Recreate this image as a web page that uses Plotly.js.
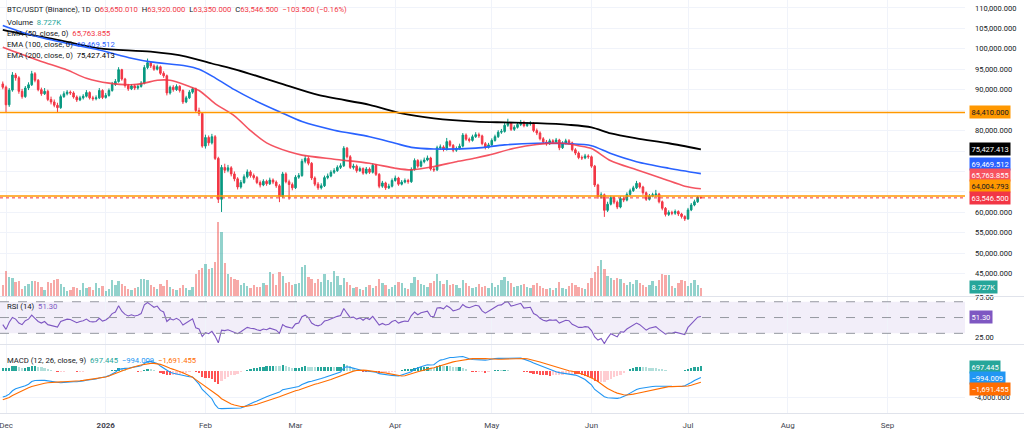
<!DOCTYPE html>
<html><head><meta charset="utf-8">
<script src="https://cdn.plot.ly/plotly-3.0.1.min.js"></script>
<style>html,body{margin:0;padding:0;background:#fff;}#chart{width:1024px;height:436px;}</style>
</head><body><div id="chart"></div>
<script>
// ---------- DATA (prices in thousands USDT, volume in thousands BTC) ----------
const startDate = [2025, 10, 30]; // 2025-11-30, first daily candle
const openK = [
91.4,90.6,86.3,89.9,93.6,92.9,89.6,88.3,90.4,91.2,
93.9,92.3,90.0,89.0,89.6,87.6,87.0,86.2,85.6,88.3,
89.0,89.4,89.2,88.2,87.5,88.0,88.4,89.3,88.0,87.8,
88.0,89.8,88.1,88.6,89.8,91.3,92.0,94.9,92.6,91.0,
90.2,90.9,90.4,90.8,91.6,95.4,96.6,95.8,95.0,95.6,
94.0,93.4,89.2,90.6,90.0,90.8,89.8,87.0,88.0,89.4,
90.2,84.9,84.2,76.2,78.3,77.0,78.5,73.2,63.2,71.0,
70.3,70.9,69.4,68.2,66.2,67.3,68.7,69.9,69.0,68.5,
67.3,66.7,67.6,67.0,67.9,67.4,66.5,63.9,69.4,67.5,
66.8,66.0,68.6,69.0,72.5,73.2,72.0,68.4,66.9,66.0,
66.5,68.5,68.9,69.8,70.2,71.0,71.4,75.7,73.6,71.0,
71.3,70.2,70.7,69.6,70.6,69.8,71.5,69.3,66.4,67.2,
66.0,66.4,67.8,68.4,66.9,67.4,67.8,67.5,70.5,72.7,
71.3,72.4,72.8,73.3,70.6,70.4,75.8,76.0,75.4,77.3,
76.4,75.2,75.6,76.2,78.9,77.9,77.6,78.5,79.0,78.7,
76.8,75.9,76.5,77.6,78.5,79.6,79.8,81.3,81.8,80.3,
80.8,81.5,82.0,81.2,81.6,81.8,80.0,79.4,78.0,77.2,
76.8,77.5,77.2,77.7,75.8,76.9,77.5,77.0,75.3,74.5,
73.4,73.3,73.8,73.6,71.3,66.7,63.8,64.3,60.5,62.0,
63.6,62.5,61.3,63.4,63.0,64.4,65.3,66.0,67.1,66.2,
64.8,63.2,64.0,64.3,64.5,62.6,61.0,59.5,60.0,59.8,
60.2,59.6,59.0,58.4,60.6,61.8,62.6,63.65001];
const highK = [
92.0,91.0,90.4,94.3,94.1,93.3,90.2,90.9,91.8,94.6,
94.3,92.6,90.5,90.4,90.0,88.3,87.6,86.8,88.8,89.6,
89.9,89.8,89.6,88.6,88.5,88.9,89.9,89.6,88.5,88.6,
90.4,90.1,89.2,90.3,91.9,92.6,95.5,95.1,92.9,91.4,
91.4,91.3,91.3,92.1,96.0,97.6,97.0,96.2,96.1,95.9,
94.5,93.7,91.0,91.1,91.3,91.1,90.1,88.5,89.9,90.6,
90.5,85.6,84.5,79.0,78.8,79.2,78.9,73.6,71.6,71.9,
71.6,71.3,70.0,68.6,67.9,69.3,70.5,70.3,69.5,68.9,
67.8,68.1,68.0,68.5,68.3,67.8,66.9,69.9,69.8,68.0,
67.3,69.1,69.6,73.1,73.9,73.6,72.3,68.8,67.4,67.1,
69.0,69.5,70.3,70.8,71.5,72.0,76.2,76.0,74.0,71.9,
71.7,71.2,71.0,71.1,71.0,72.0,71.8,69.6,67.7,67.5,
67.0,68.3,69.0,68.7,67.9,68.3,68.2,71.0,73.2,73.0,
72.9,73.4,73.9,73.6,71.1,76.3,76.6,76.4,78.2,77.7,
76.7,76.1,76.8,79.4,79.3,78.3,79.0,79.6,79.5,79.0,
77.2,77.0,78.1,79.0,80.1,80.4,81.9,82.9,82.1,81.3,
82.0,82.6,82.4,82.1,82.3,82.1,80.5,79.8,78.4,77.7,
78.0,77.9,78.2,78.0,77.4,78.0,77.9,77.3,75.7,74.9,
73.9,74.3,74.2,73.9,71.6,67.0,64.9,64.6,62.6,64.1,
64.0,62.9,63.9,63.9,64.9,65.8,66.5,67.7,67.4,66.5,
65.1,64.5,64.8,65.5,64.8,62.9,61.3,60.5,60.4,60.7,
60.5,59.9,59.3,61.1,62.3,63.1,64.0,63.92];
const lowK = [
90.1,84.3,85.8,89.5,92.2,89.0,87.8,88.0,89.9,90.9,
91.8,89.6,88.5,88.7,87.2,86.4,85.7,84.4,85.3,88.0,
88.6,88.7,87.8,87.0,87.2,87.6,88.1,87.6,87.3,87.4,
87.7,87.7,87.8,88.3,89.5,90.9,91.7,92.2,90.5,89.7,
89.9,89.9,90.0,90.5,91.3,95.0,95.3,94.6,94.7,93.6,
92.9,88.6,88.8,89.5,89.7,89.3,86.5,86.7,87.7,89.0,
84.4,83.6,75.8,75.6,76.3,76.6,72.8,62.3,60.1,69.6,
69.8,68.8,67.6,65.6,65.8,67.0,68.3,68.5,68.0,66.9,
66.1,66.4,66.5,66.7,66.9,66.0,62.5,63.6,67.1,63.1,
65.4,65.7,68.2,68.7,72.0,71.5,67.9,66.4,65.5,65.6,
66.2,68.1,68.6,69.4,69.9,70.6,71.1,73.2,70.6,70.5,
69.7,69.9,69.2,69.3,69.4,69.5,68.9,65.9,66.0,65.5,
65.7,66.1,67.5,66.5,66.6,67.1,67.0,67.2,70.2,70.9,
71.0,72.0,72.5,70.2,69.9,70.1,75.3,74.9,75.1,76.0,
74.7,74.8,75.3,75.9,77.5,77.1,77.3,78.2,78.2,76.4,
75.4,75.6,76.2,77.3,78.2,79.2,79.5,80.9,79.9,79.9,
80.5,81.1,80.8,80.9,81.2,79.6,78.9,77.6,76.8,76.3,
76.5,76.8,76.9,75.2,75.5,76.6,76.6,74.9,74.0,73.0,
72.8,73.0,73.1,70.9,66.2,63.3,63.4,58.9,60.1,61.7,
62.0,60.8,61.0,62.5,62.7,64.1,65.0,65.7,65.8,64.3,
62.8,62.9,63.7,63.8,62.2,60.5,59.0,59.1,59.3,59.4,
59.1,58.5,57.9,58.2,60.3,61.5,62.3,63.35];
const closeK = [
90.6,86.3,89.9,93.6,92.9,89.6,88.3,90.4,91.2,93.9,
92.3,90.0,89.0,89.6,87.6,87.0,86.2,85.6,88.3,89.0,
89.4,89.2,88.2,87.5,88.0,88.4,89.3,88.0,87.8,88.0,
89.8,88.1,88.6,89.8,91.3,92.0,94.9,92.6,91.0,90.2,
90.9,90.4,90.8,91.6,95.4,96.6,95.8,95.0,95.6,94.0,
93.4,89.2,90.6,90.0,90.8,89.8,87.0,88.0,89.4,90.2,
84.9,84.2,76.2,78.3,77.0,78.5,73.2,63.2,71.0,70.3,
70.9,69.4,68.2,66.2,67.3,68.7,69.9,69.0,68.5,67.3,
66.7,67.6,67.0,67.9,67.4,66.5,63.9,69.4,67.5,66.8,
66.0,68.6,69.0,72.5,73.2,72.0,68.4,66.9,66.0,66.5,
68.5,68.9,69.8,70.2,71.0,71.4,75.7,73.6,71.0,71.3,
70.2,70.7,69.6,70.6,69.8,71.5,69.3,66.4,67.2,66.0,
66.4,67.8,68.4,66.9,67.4,67.8,67.5,70.5,72.7,71.3,
72.4,72.8,73.3,70.6,70.4,75.8,76.0,75.4,77.3,76.4,
75.2,75.6,76.2,78.9,77.9,77.6,78.5,79.0,78.7,76.8,
75.9,76.5,77.6,78.5,79.6,79.8,81.3,81.8,80.3,80.8,
81.5,82.0,81.2,81.6,81.8,80.0,79.4,78.0,77.2,76.8,
77.5,77.2,77.7,75.8,76.9,77.5,77.0,75.3,74.5,73.4,
73.3,73.8,73.6,71.3,66.7,63.8,64.3,60.5,62.0,63.6,
62.5,61.3,63.4,63.0,64.4,65.3,66.0,67.1,66.2,64.8,
63.2,64.0,64.3,64.5,62.6,61.0,59.5,60.0,59.8,60.2,
59.6,59.0,58.4,60.6,61.8,62.6,63.65001,63.5465];
const volumeK = [
12,27,21,20,15,16,8,11,13,16,
16,15,10,6,15,14,17,18,13,10,
5,6,10,9,6,14,9,10,6,14,
9,11,5,8,17,12,16,13,11,8,
7,9,10,18,19,17,12,10,8,13,
11,17,10,8,7,9,12,9,7,10,
24,28,31,35,29,31,37,81,70,36,
24,21,18,17,12,14,11,9,12,10,
10,14,12,26,24,12,26,22,14,15,
12,13,14,32,34,21,18,14,19,15,
24,17,15,27,22,12,20,15,12,9,
10,8,6,10,12,9,11,19,14,12,
8,10,12,15,14,9,8,14,21,17,
13,12,10,14,16,24,16,13,17,12,
13,12,9,17,14,11,9,10,13,10,
11,9,14,10,12,17,21,16,14,10,
11,12,13,10,9,12,14,11,9,8,
9,7,9,15,9,8,11,14,12,10,
9,8,14,20,26,33,39,29,22,20,
17,20,18,14,12,15,13,17,14,12,
10,12,16,11,17,24,23,23,11,9,
14,17,16,11,14,17,12,8.727];
const rsi = [
41,35,44,50,48,43,41,46,48,53,
49,45,43,45,41,40,39,38,45,47,
48,47.5,45,43.5,45,46,48,45,44.5,45,
49,45.5,47,50,55,57,65,58,54,52,
53.5,52,53,55,66,69,66,63,64.5,59,
57,45,48.5,47,49,46.5,40.5,43.5,46.5,48.5,
37,35.5,26,31,29.5,32.5,26.5,18,34,33.5,
34.5,33,31.5,29.5,32,35,37.5,36.5,36,34.5,
33.5,35.5,34.5,36.5,35.5,34,30,41,38.5,37.5,
36.5,42,43,51,53,50,43,40.5,39.5,41,
45.5,46.5,48.5,49.5,51.5,52.5,61.5,55.5,50,50.5,
48,49.5,46.5,49.5,47.5,51.5,46,40.5,42.5,40.5,
41.5,45,46.5,43,44.5,45.5,45,52.5,57,53.5,
56,57,58,51.5,51,62,62.5,61,65,62.5,
58.5,59.5,61,66.5,63.5,62.5,64.5,65.5,64.5,58.5,
55.5,57.5,60.5,63,65.5,66,69,70,64.5,65.5,
67,68,62,62.5,63,55,53,49,46.5,45.5,
47,46.5,47,43,44.5,46.5,46,41.5,39.5,37.5,
37.5,38.5,38,33.5,25.5,21.5,23.5,17,24,29.5,
27.5,25.5,32,31.5,35.5,38,40,43,41,37.5,
34,36.5,37.5,38.5,35,31.5,29,30.5,30,31.5,
30.5,29.5,28.5,37.5,42,45.5,50.5,51.3];
const macd = [
-3950,-3800,-3500,-3000,-2700,-2550,-2450,-2250,-2000,-1600,
-1450,-1380,-1400,-1420,-1500,-1580,-1680,-1800,-1780,-1720,
-1650,-1620,-1620,-1640,-1600,-1520,-1400,-1350,-1300,-1220,
-1050,-980,-870,-700,-450,-200,250,380,400,420,
560,620,700,800,1150,1420,1450,1300,1150,750,
400,20,-200,-350,-450,-550,-750,-850,-880,-900,
-1400,-2000,-2800,-3300,-3800,-4200,-5100,-5650,-5700,-5680,
-5660,-5670,-5680,-5700,-5600,-5400,-5150,-4950,-4750,-4550,
-4300,-4100,-3900,-3700,-3500,-3350,-3200,-2850,-2750,-2700,
-2650,-2500,-2350,-2050,-1800,-1650,-1550,-1450,-1300,-1150,
-1000,-850,-700,-550,-350,-150,500,650,550,400,
250,150,50,0,-50,-80,-200,-400,-480,-580,
-650,-680,-700,-760,-600,-400,-250,-100,250,500,
650,800,950,900,950,1350,1650,1750,1950,2050,
2050,2050,2150,2200,2000,1850,1750,1700,1720,1700,
1650,1700,1850,1900,1920,1920,1950,1950,1900,1920,
1950,1950,1800,1650,1450,1200,1000,800,600,400,
200,50,-100,-250,-320,-350,-400,-500,-620,-800,
-1000,-1300,-1700,-2100,-2800,-3200,-3500,-3900,-4050,-4100,
-4130,-4150,-4050,-3900,-3650,-3350,-3050,-2800,-2650,-2550,
-2450,-2400,-2350,-2300,-2280,-2270,-2280,-2300,-2330,-2350,
-2370,-2350,-2250,-2050,-1750,-1450,-1180,-994.009];
const signal = [
-4350,-4200,-4000,-3700,-3450,-3200,-2950,-2750,-2550,-2350,
-2200,-2050,-1950,-1850,-1780,-1720,-1680,-1660,-1650,-1630,
-1620,-1600,-1560,-1520,-1480,-1420,-1360,-1300,-1240,-1180,
-1110,-1030,-900,-760,-600,-420,-200,0,180,350,
500,620,800,900,1000,1100,1160,1150,1100,1000,
850,600,400,250,100,-50,-250,-500,-700,-950,
-1300,-1650,-1950,-2300,-2700,-3050,-3450,-3750,-4200,-4500,
-4800,-5000,-5150,-5300,-5380,-5400,-5350,-5250,-5150,-5050,
-4900,-4750,-4600,-4450,-4280,-4100,-3900,-3700,-3500,-3300,
-3150,-3000,-2880,-2700,-2500,-2300,-2150,-2000,-1880,-1750,
-1600,-1450,-1300,-1100,-900,-700,-500,-300,-150,-20,
80,150,140,100,50,0,-60,-120,-200,-300,
-400,-500,-600,-700,-760,-720,-600,-450,-250,-100,
50,180,300,400,500,650,800,950,1150,1260,
1380,1480,1580,1670,1760,1820,1870,1900,1920,1900,
1880,1850,1800,1780,1770,1790,1820,1850,1880,1900,
1920,1920,1900,1850,1750,1650,1500,1350,1200,1050,
900,700,550,400,280,150,50,-50,-150,-300,
-450,-600,-800,-1000,-1300,-1600,-1900,-2300,-2650,-2950,
-3150,-3350,-3500,-3600,-3640,-3600,-3500,-3400,-3300,-3150,
-3000,-2900,-2800,-2700,-2600,-2500,-2400,-2370,-2360,-2360,
-2370,-2370,-2350,-2280,-2150,-2000,-1850,-1691.455];
// EMA lines read at sample days (index into the daily series)
const ema50Idx = [0,5,12,20,26,33,40,44,48,52,57,61,66,72,77,82,89,93,103,114,122,127,134,141,147,151,159,166,174,179,183,189,197,205,212,217];
const ema50K   = [100.4,98.9,96.9,94.8,92.8,91.6,91.2,91.6,92.3,92.3,91.1,89.8,86.6,83.6,80.0,77.0,74.8,74.0,73.0,72.0,70.8,70.4,71.2,72.4,73.3,74.0,75.7,76.6,76.9,76.3,75.6,72.6,70.4,68.3,66.4,65.764];
const ema100Idx = [0,5,10,20,30,40,46,57,61,66,72,78,86,93,103,114,122,127,134,147,156,166,176,183,189,197,207,217];
const ema100K   = [105.7,104.3,103.1,101.3,99.7,97.7,96.8,95.8,95.0,92.9,90.0,87.5,84.6,82.2,80.1,78.5,76.9,75.9,75.5,75.7,76.5,76.9,76.8,76.3,74.4,72.4,70.8,69.47];
const ema200Idx = [0,5,10,20,30,46,57,65,73,86,98,114,124,134,147,156,166,176,183,189,197,207,217];
const ema200K   = [104.6,103.8,103.2,101.7,100.1,99.3,98.1,96.4,94.8,91.6,88.7,86.3,84.2,83.0,82.2,82.0,81.8,81.4,80.8,79.3,78.1,76.9,75.427];
// horizontal levels
const levelsK = [84.41, 64.004793];
const lastPriceK = 63.5465;
// axis ticks
const monthTicks = ['2025-12-01','2026-01-01','2026-02-01','2026-03-01','2026-04-01','2026-05-01','2026-06-01','2026-07-01','2026-08-01','2026-09-01'];
const monthLabels = ['Dec','<b>2026</b>','Feb','Mar','Apr','May','Jun','Jul','Aug','Sep'];
const priceTicksK = [45,50,55,60,65,70,75,80,85,90,95,100,105,110];
const hiddenPriceTicksK = [65,70,75,85];

// ---------- BUILD ----------
const N = closeK.length;
const dates = [];
for (let i = 0; i < N; i++) {
  const d = new Date(Date.UTC(startDate[0], startDate[1], startDate[2] + i));
  dates.push(d.toISOString().slice(0, 10));
}
const K = a => a.map(v => v * 1000);
const UP = '#089981', DOWN = '#f23645';
const volColors = closeK.map((c, i) => c >= openK[i] ? 'rgba(38,166,154,0.5)' : 'rgba(239,83,80,0.5)');
const hist = macd.map((m, i) => m - signal[i]);
const histColors = hist.map((h, i) => {
  const p = i > 0 ? hist[i - 1] : h;
  if (h >= 0) return h >= p ? '#26a69a' : '#b2dfdb';
  return h < p ? '#ff5252' : '#ffcdd2';
});
const pick = (idx) => idx.map(i => dates[i]);
const fmt = (v, d) => v.toLocaleString('en-US', {minimumFractionDigits: d, maximumFractionDigits: d});

const FONT = 'Roboto, "Liberation Sans", Arial, sans-serif';
const H = 436, W = 1024;
const py = y => 1 - y / H;
const plotRight = 965 / W;
const DAY = 86400000;

const traces = [
  {type:'bar', x:dates, y:volumeK, xaxis:'x3', yaxis:'y4', marker:{color:volColors, line:{width:0}}, width:0.72*DAY, hoverinfo:'skip'},
  {type:'candlestick', x:dates, open:K(openK), high:K(highK), low:K(lowK), close:K(closeK), xaxis:'x3', yaxis:'y3',
   increasing:{line:{color:UP, width:1}, fillcolor:UP}, decreasing:{line:{color:DOWN, width:1}, fillcolor:DOWN}, whiskerwidth:0, hoverinfo:'skip'},
  {type:'scatter', mode:'lines', x:pick(ema200Idx), y:K(ema200K), xaxis:'x3', yaxis:'y3', line:{color:'#000000', width:1.8, shape:'spline', smoothing:0.8}, hoverinfo:'skip'},
  {type:'scatter', mode:'lines', x:pick(ema100Idx), y:K(ema100K), xaxis:'x3', yaxis:'y3', line:{color:'#2962ff', width:1.6, shape:'spline', smoothing:0.8}, hoverinfo:'skip'},
  {type:'scatter', mode:'lines', x:pick(ema50Idx), y:K(ema50K), xaxis:'x3', yaxis:'y3', line:{color:'#f23645', width:1.6, shape:'spline', smoothing:0.8}, opacity:0.85, hoverinfo:'skip'},
  {type:'scatter', mode:'lines', x:dates, y:rsi, xaxis:'x2', yaxis:'y2', line:{color:'#7e57c2', width:1.1}, hoverinfo:'skip'},
  {type:'bar', x:dates, y:hist, xaxis:'x', yaxis:'y', marker:{color:histColors, line:{width:0}}, width:0.72*DAY, hoverinfo:'skip'},
  {type:'scatter', mode:'lines', x:dates, y:macd, xaxis:'x', yaxis:'y', line:{color:'#2196f3', width:1.1}, hoverinfo:'skip'},
  {type:'scatter', mode:'lines', x:dates, y:signal, xaxis:'x', yaxis:'y', line:{color:'#ff6d00', width:1.1}, hoverinfo:'skip'}
];

const xRange = ['2025-11-29 03:15', '2026-09-25 02:30'];
const gridC = '#f0f3fa';
const xBase = {type:'date', range:xRange, autorange:false, rangeslider:{visible:false}, showgrid:true, gridcolor:gridC, gridwidth:1, zeroline:false, showline:false, ticks:'', tickvals:monthTicks, fixedrange:true};

const priceTickText = priceTicksK.map(v => hiddenPriceTicksK.includes(v) ? '' : fmt(v*1000, 3));

const layout = {
  width:W, height:H, margin:{l:0, r:0, t:0, b:0}, paper_bgcolor:'#ffffff', plot_bgcolor:'#ffffff',
  showlegend:false, hovermode:false, bargap:0,
  font:{family:FONT, size:8, color:'#131722'},
  xaxis: Object.assign({}, xBase, {domain:[0, plotRight], anchor:'y', ticktext:monthLabels, showticklabels:true, ticklabeloverflow:'allow', ticklabelstandoff:6, tickfont:{size:8, color:'#434651', family:FONT}}),
  xaxis2: Object.assign({}, xBase, {domain:[0, plotRight], anchor:'y2', showticklabels:false}),
  xaxis3: Object.assign({}, xBase, {domain:[0, plotRight], anchor:'y3', showticklabels:false}),
  yaxis: {domain:[py(413), py(345)], anchor:'x', side:'right', range:[-6364, 3940], tickvals:[-4000], ticktext:[fmt(-4000,3)],
          showgrid:true, gridcolor:gridC, zeroline:false, ticks:'', ticklabelstandoff:9, tickfont:{size:7.5, color:'#131722'}, fixedrange:true},
  yaxis2: {domain:[py(344), py(297)], anchor:'x2', side:'right', range:[16.5, 76], tickvals:[25, 75], ticktext:['25.00','75.00'],
          showgrid:false, zeroline:false, ticks:'', ticklabelstandoff:9, tickfont:{size:7.5, color:'#131722'}, fixedrange:true},
  yaxis3: {domain:[py(296), 1], anchor:'x3', side:'right', range:[39554, 111926], tickvals:priceTicksK.map(v=>v*1000), ticktext:priceTickText,
          showgrid:true, gridcolor:gridC, zeroline:false, ticks:'', ticklabelstandoff:9, tickfont:{size:7.5, color:'#131722'}, fixedrange:true},
  yaxis4: {overlaying:'y3', anchor:'x3', range:[0, 322.6], visible:false, fixedrange:true},
  shapes: [
    {type:'rect', xref:'paper', yref:'y2', x0:0, x1:plotRight, y0:30, y1:70, fillcolor:'rgba(126,87,194,0.1)', line:{width:0}, layer:'below'},
    {type:'line', xref:'paper', yref:'y2', x0:0, x1:plotRight, y0:70, y1:70, line:{color:'#9598a1', width:1, dash:'dash'}},
    {type:'line', xref:'paper', yref:'y2', x0:0, x1:plotRight, y0:50, y1:50, line:{color:'#9598a1', width:1, dash:'dash'}},
    {type:'line', xref:'paper', yref:'y2', x0:0, x1:plotRight, y0:30, y1:30, line:{color:'#9598a1', width:1, dash:'dash'}},
    {type:'line', xref:'paper', yref:'y3', x0:0, x1:plotRight, y0:levelsK[0]*1000, y1:levelsK[0]*1000, line:{color:'#ff9800', width:1.5}},
    {type:'line', xref:'paper', yref:'y3', x0:0, x1:plotRight, y0:levelsK[1]*1000, y1:levelsK[1]*1000, line:{color:'#ff9800', width:1.5}},
    {type:'line', xref:'paper', yref:'y3', x0:0, x1:plotRight, y0:lastPriceK*1000, y1:lastPriceK*1000, line:{color:'#f23645', width:1, dash:'dot'}},
    {type:'line', xref:'paper', yref:'paper', x0:0, x1:1, y0:py(296.5), y1:py(296.5), line:{color:'#e0e3eb', width:1}},
    {type:'line', xref:'paper', yref:'paper', x0:0, x1:1, y0:py(344.5), y1:py(344.5), line:{color:'#e0e3eb', width:1}},
    {type:'line', xref:'paper', yref:'paper', x0:0, x1:1, y0:py(413.5), y1:py(413.5), line:{color:'#e0e3eb', width:1}}
  ],
  annotations: []
};

const A = layout.annotations;
function box(text, ypx, bg, fg) {
  A.push({xref:'paper', yref:'paper', x:969/W, y:py(ypx), xanchor:'left', yanchor:'middle', text:text, showarrow:false,
          bgcolor:bg, borderpad:1.5, font:{family:FONT, size:7.5, color:fg}});
}
function label(text, xpx, ypx) {
  A.push({xref:'paper', yref:'paper', x:xpx/W, y:py(ypx), xanchor:'left', yanchor:'middle', text:text, showarrow:false,
          font:{family:FONT, size:7.7, color:'#131722'}});
}
const sp = '\u00a0';
const c = (col, t) => '<span style="color:' + col + '">' + t + '</span>';
const R = '#f23645';
label('BTC/USDT (Binance), 1D' + sp + sp + 'O' + c(R,'63,650.010') + sp + sp + 'H' + c(R,'63,920.000') + sp + sp + 'L' + c(R,'63,350.000') + sp + sp + 'C' + c(R,'63,546.500') + sp + sp + c(R,'−103.500 (−0.16%)'), 5, 10);
label('Volume' + sp + sp + c('#26a69a','8.727K'), 5, 22);
label('EMA (50, close, 0)' + sp + sp + c('#f23645','65,763.855'), 5, 33.5);
label('EMA (100, close, 0)' + sp + sp + c('#2962ff','69,469.512'), 5, 44.5);
label('EMA (200, close, 0)' + sp + sp + c('#000000','75,427.413'), 5, 55.5);
label('RSI (14)' + sp + sp + c('#7e57c2','51.30'), 5, 306);
label('MACD (12, 26, close, 9)' + sp + sp + c('#26a69a','697.445') + sp + sp + c('#2196f3','−994.009') + sp + sp + c('#ff6d00','−1,691.455'), 5, 360);

box('84,410.000', 112.5, '#ff9800', '#131722');
box('75,427.413', 149.3, '#000000', '#ffffff');
box('69,469.512', 163.5, '#2962ff', '#ffffff');
box('65,763.855', 175, '#f7525f', '#ffffff');
box('64,004.793', 186.5, '#ff9800', '#131722');
box('63,546.500', 198, '#f23645', '#ffffff');
box('8.727K', 287, '#26a69a', '#ffffff');
box('51.30', 316.7, '#7e57c2', '#ffffff');
box('697.445', 366.5, '#26a69a', '#ffffff');
box('−994.009', 377.5, '#2196f3', '#ffffff');
box('−1,691.455', 388.5, '#ff6d00', '#ffffff');

Plotly.newPlot('chart', traces, layout, {staticPlot:true, displayModeBar:false});
</script>
</body></html>
